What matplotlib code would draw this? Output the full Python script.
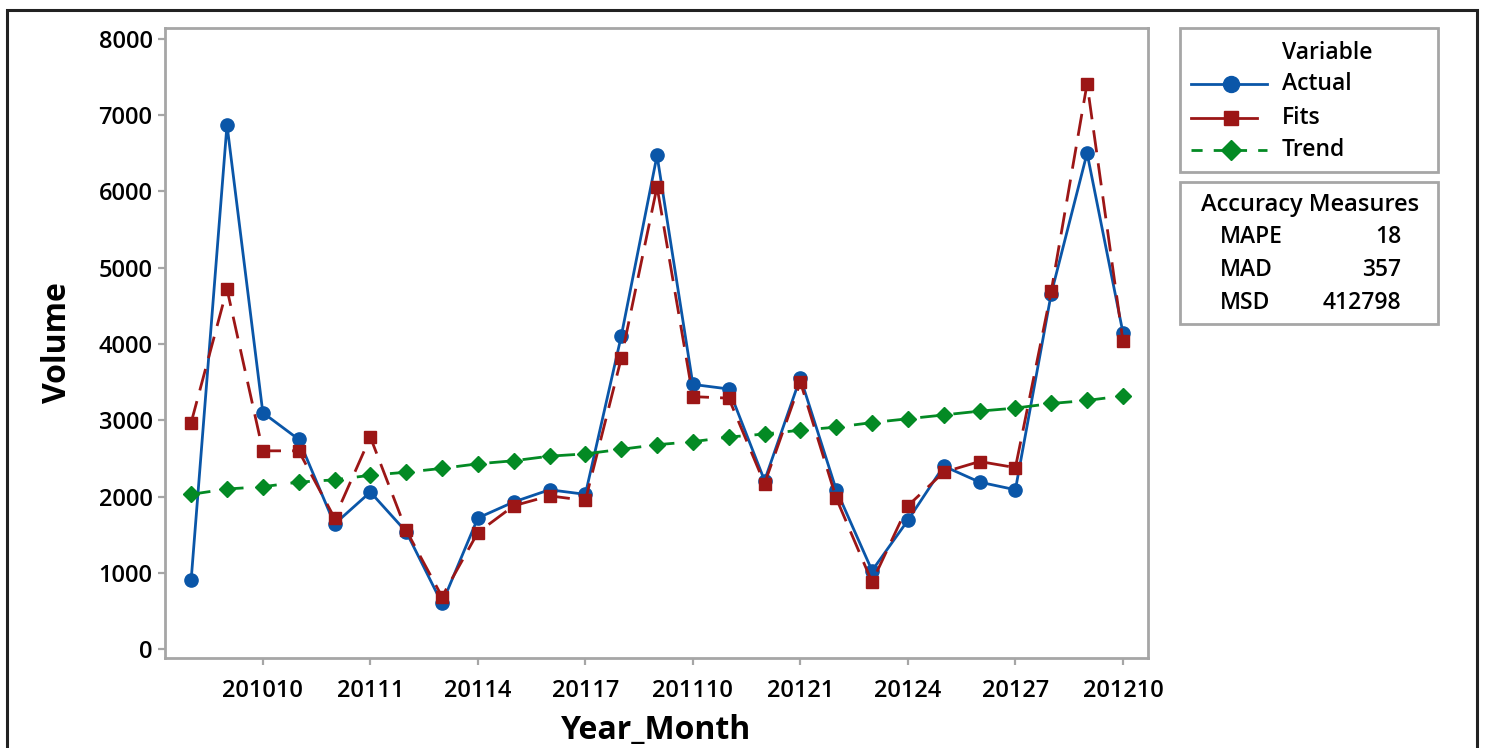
import matplotlib
matplotlib.use("Agg")
import matplotlib.pyplot as plt
from matplotlib.lines import Line2D
from matplotlib.patches import Rectangle

plt.rcParams['font.family'] = ['Open Sans', 'DejaVu Sans']

# data
months = list(range(1, 28))  # 201008 .. 201210
tick_pos = [3, 6, 9, 12, 15, 18, 21, 24, 27]
tick_labels = ["201010", "20111", "20114", "20117", "201110",
               "20121", "20124", "20127", "201210"]
actual = [910, 6870, 3100, 2750, 1640, 2060, 1540, 600, 1720, 1930, 2090, 2030,
          4100, 6470, 3470, 3410, 2210, 3560, 2090, 1030, 1690, 2400, 2190, 2090,
          4660, 6500, 4150]
fits = [2970, 4720, 2600, 2600, 1720, 2780, 1560, 690, 1530, 1880, 2010, 1950,
        3810, 6060, 3310, 3290, 2170, 3500, 1980, 880, 1880, 2320, 2460, 2380,
        4690, 7410, 4040]
trend = [2030, 2100, 2130, 2190, 2220, 2280, 2320, 2370, 2430, 2470, 2530, 2560,
         2620, 2680, 2720, 2780, 2820, 2870, 2910, 2970, 3020, 3070, 3120, 3160,
         3220, 3260, 3320]
measures = ["MAPE", "MAD", "MSD"]
measure_vals = ["18", "357", "412798"]

BLUE = "#0a56a8"
RED = "#9c1616"
GREEN = "#038a24"
FRAME = "#a6a6a6"

W, H = 1485, 748
fig = plt.figure(figsize=(W / 100, H / 100), dpi=100)


def fx(px):
    return px / W


def fy(py):
    return 1 - py / H


ax = fig.add_axes([fx(165), fy(658), fx(1148) - fx(165), fy(28) - fy(658)])

ax.plot(months, actual, color=BLUE, lw=2, marker="o", ms=9.5, zorder=3)
ax.plot(months, fits, color=RED, lw=2, ls=(0, (8, 4)), marker="s", ms=8.5, zorder=4)
ax.plot(months, trend, color=GREEN, lw=2, ls=(0, (7, 5)), marker="D", ms=8.5, zorder=5)

ax.set_xlim(0.27, 27.7)
ax.set_ylim(-114, 8139)
ax.set_xticks(tick_pos)
ax.set_xticklabels(tick_labels)
ax.set_yticks(range(0, 8001, 1000))
for s in ax.spines.values():
    s.set_color(FRAME)
    s.set_linewidth(2)
ax.tick_params(colors=FRAME, width=1.6, length=5, pad=4, labelcolor="black",
               labelsize=17)
ax.tick_params(axis="x", pad=10)
for lab in ax.get_xticklabels() + ax.get_yticklabels():
    lab.set_fontweight("semibold")
ax.set_xlabel("Year_Month", fontsize=23, fontweight="bold", labelpad=8)
ax.set_ylabel("Volume", fontsize=23, fontweight="bold", labelpad=18)

# outer border
fig.patches.append(Rectangle((fx(7), fy(760)), fx(1477) - fx(7), fy(10) - fy(760),
                             transform=fig.transFigure, fill=False,
                             edgecolor="#222222", lw=2.2))

# legend box
fig.patches.append(Rectangle((fx(1180), fy(172)), fx(1438) - fx(1180), fy(28) - fy(172),
                             transform=fig.transFigure, fill=False,
                             edgecolor=FRAME, lw=2))
fig.text(fx(1282), fy(53), "Variable", fontsize=16.5, fontweight="semibold",
         va="center", ha="left")
rows = [("Actual", BLUE, "-", "o", 9.5, 84, 1267),
        ("Fits", RED, "-", "s", 8.5, 118, 1257),
        ("Trend", GREEN, (0, (4, 4)), "D", 8.5, 150, 1267)]
for name, col, ls, mk, ms, y, xend in rows:
    fig.lines.append(Line2D([fx(1191), fx(xend)], [fy(y), fy(y)], transform=fig.transFigure,
                            color=col, lw=2, ls=ls))
    fig.lines.append(Line2D([fx(1231)], [fy(y)], transform=fig.transFigure,
                            color=col, marker=mk, ms=ms + 2, ls="none"))
    fig.text(fx(1282), fy(y), name, fontsize=16.5, fontweight="semibold",
             va="center", ha="left")

# accuracy measures box
fig.patches.append(Rectangle((fx(1180), fy(324)), fx(1438) - fx(1180), fy(182) - fy(324),
                             transform=fig.transFigure, fill=False,
                             edgecolor=FRAME, lw=2))
fig.text(fx(1310), fy(205), "Accuracy Measures", fontsize=17, fontweight="semibold",
         va="center", ha="center")
for i, (m, v) in enumerate(zip(measures, measure_vals)):
    y = 237 + i * 33
    fig.text(fx(1220), fy(y), m, fontsize=16.5, fontweight="semibold", va="center", ha="left")
    fig.text(fx(1401), fy(y), v, fontsize=16.5, fontweight="semibold", va="center", ha="right")

fig.savefig("out.png", dpi=100)
